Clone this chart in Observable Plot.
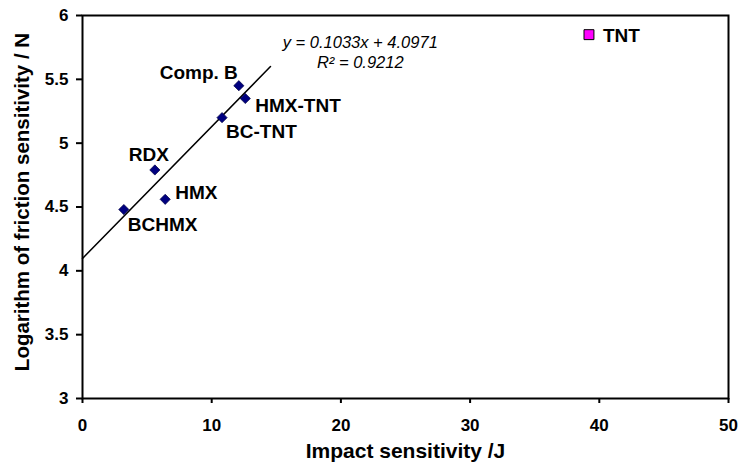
<!DOCTYPE html>
<html><head><meta charset="utf-8">
<script src="https://cdn.jsdelivr.net/npm/d3@7"></script>
<script src="https://cdn.jsdelivr.net/npm/@observablehq/plot@0.6"></script>
<style>
body{margin:0;background:#fff}
svg{font-family:"Liberation Sans",Arial,sans-serif;}
</style>
</head><body><div id="chart"></div>
<script>
// Data
const names = ["BCHMX", "RDX", "HMX", "BC-TNT", "Comp. B", "HMX-TNT"];
const impact = [3.2, 5.6, 6.4, 10.8, 12.1, 12.6];
const friction = [4.48, 4.79, 4.56, 5.20, 5.45, 5.35];

const outlierName = ["TNT"];
const outlierImpact = [39.2];
const outlierFriction = [5.85];

// Linear fit shown on the chart
const slope = 0.1033, intercept = 4.0971;
const fitRange = [0, 14.55];
const equationLines = ["y = 0.1033x + 4.0971", "R² = 0.9212"];
const equationPos = {x: 21.5, y: [5.79, 5.63]};

const xTicks = [0, 10, 20, 30, 40, 50];
const yTicks = [3, 3.5, 4, 4.5, 5, 5.5, 6];
const xTitle = "Impact sensitivity /J";
const yTitle = "Logarithm of friction sensitivity / N";

// build tables
const points = names.map((n, i) => ({name: n, x: impact[i], y: friction[i]}));
const outliers = outlierName.map((n, i) => ({name: n, x: outlierImpact[i], y: outlierFriction[i]}));
const fit = fitRange.map(x => ({x, y: slope * x + intercept}));
const eq = equationLines.map((t, i) => ({t, x: equationPos.x, y: equationPos.y[i]}));

// label placement (style, pixel offsets)
const labelStyle = {
  "BCHMX":   {dx: 4,  dy: 15, anchor: "start"},
  "RDX":     {dx: -6, dy: -15, anchor: "middle"},
  "HMX":     {dx: 10, dy: -6, anchor: "start"},
  "BC-TNT":  {dx: 4,  dy: 14, anchor: "start"},
  "Comp. B": {dx: -1, dy: -13, anchor: "end"},
  "HMX-TNT": {dx: 10, dy: 7, anchor: "start"}
};
const labelMarks = points.map(p => Plot.text([p], {
  x: "x", y: "y", text: "name",
  dx: labelStyle[p.name].dx, dy: labelStyle[p.name].dy,
  textAnchor: labelStyle[p.name].anchor,
  fontSize: 19, fontWeight: "bold", fill: "#000"
}));

const chart = Plot.plot({
  width: 740, height: 467,
  marginLeft: 82, marginRight: 12, marginTop: 15, marginBottom: 69,
  x: {domain: [0, 50]},
  y: {domain: [3, 6]},
  style: {fontFamily: '"Liberation Sans", Arial, sans-serif', background: "#fff"},
  marks: [
    Plot.frame({stroke: "#000", strokeWidth: 2}),
    Plot.axisX({ticks: xTicks, tickSize: 5, tickPadding: 15, tickFormat: d => String(d),
      fontSize: 17, fontWeight: "bold", strokeWidth: 2, label: null}),
    Plot.axisY({ticks: yTicks, tickSize: 6, tickPadding: 8, tickFormat: d => String(d),
      fontSize: 17, fontWeight: "bold", strokeWidth: 2, label: null}),
    Plot.line(fit, {x: "x", y: "y", stroke: "#000", strokeWidth: 1.5}),
    Plot.dot(points, {x: "x", y: "y", symbol: "diamond2", r: 4.6, fill: "#000080", stroke: "#000040", strokeWidth: 0.7}),
    Plot.dot(outliers, {x: "x", y: "y", symbol: "square", r: 5.6, fill: "#ff00ff", stroke: "#000", strokeWidth: 1}),
    ...labelMarks,
    Plot.text(outliers, {x: "x", y: "y", text: "name", dx: 14, dy: 1, textAnchor: "start",
      fontSize: 19, fontWeight: "bold", fill: "#000"}),
    Plot.text(eq, {x: "x", y: "y", text: "t", fontSize: 16.5, fontStyle: "italic", fill: "#000"}),
    Plot.text([xTitle], {frameAnchor: "bottom", dy: 59, fontSize: 21, fontWeight: "bold", fill: "#000"}),
    Plot.text([yTitle], {frameAnchor: "left", textAnchor: "middle", dx: -60, dy: -5, rotate: -90, fontSize: 20.5, fontWeight: "bold", fill: "#000"})
  ]
});
document.getElementById("chart").appendChild(chart);
</script>
</body></html>
